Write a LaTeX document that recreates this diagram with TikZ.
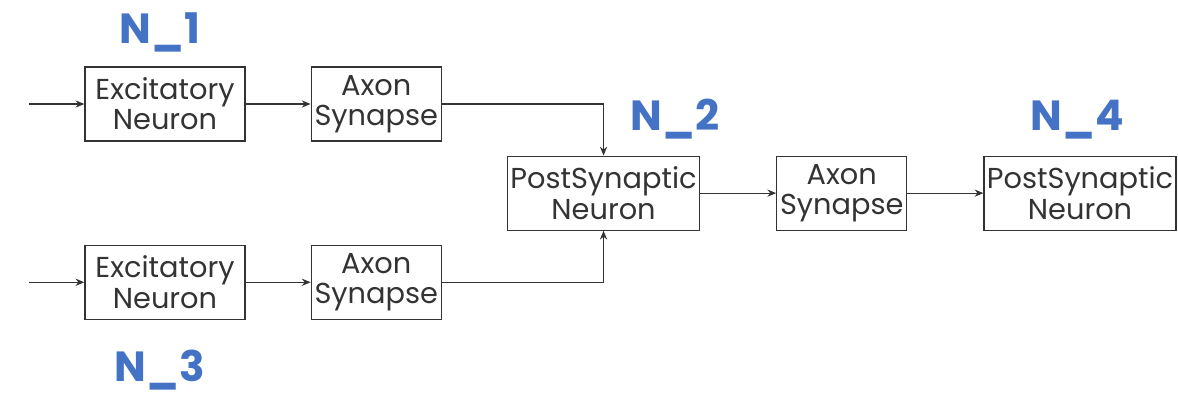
\documentclass[tikz,border=0pt]{standalone}
\usepackage{fontspec}
\setmainfont{Poppins}
\usepackage{tikz}
\usetikzlibrary{arrows.meta,positioning,calc}
\definecolor{ink}{RGB}{51,51,51}
\definecolor{tagblue}{RGB}{68,114,196}
\tikzset{
  unit/.style={rectangle,draw=ink,line width=0.9pt,text=ink,minimum height=1.85cm,
               inner sep=1pt,align=center,font=\fontsize{20.5}{21.5}\selectfont},
  neuron/.style={unit,minimum width=4cm},
  synapse/.style={unit,minimum width=3.25cm},
  post/.style={unit,minimum width=4.8cm},
  tag/.style={text=tagblue,font=\bfseries\fontsize{30}{32}\selectfont,inner sep=0pt},
  flow/.style={-{Stealth[length=2.2mm,width=1.8mm]},line width=0.9pt,draw=ink},
}

\begin{document}
\begin{tikzpicture}[node distance=1.625cm and 1.625cm]
  \useasboundingbox (-4.125,-7.325) rectangle (25.325,2.6);
  \node[neuron] (exc1) at (0,0) {Excitatory\\Neuron};
  \node[synapse,right=1.625cm of exc1] (ax1) {Axon\\Synapse};
  \node[neuron,below=2.575cm of exc1] (exc2) {Excitatory\\Neuron};
  \node[synapse,right=1.625cm of exc2] (ax2) {Axon\\Synapse};
  \coordinate (mid) at ($(ax1.east)!0.5!(ax2.east)$);
  \node[post,right=1.625cm of mid] (post1) {PostSynaptic\\Neuron};
  \node[synapse,right=1.9cm of post1] (ax3) {Axon\\Synapse};
  \node[post,right=1.9cm of ax3] (post2) {PostSynaptic\\Neuron};

  \coordinate[left=1.375cm of exc1] (in1);
  \coordinate[left=1.375cm of exc2] (in2);

  \node[tag] at ([yshift=1.8cm,xshift=-0.125cm]exc1.center) (n1) {N\_1};
  \node[tag] at ([yshift=-2.2cm,xshift=-0.125cm]exc2.center) (n3) {N\_3};
  \node[tag] at ([yshift=0.9cm,xshift=-0.625cm]post1.north east) (n2) {N\_2};
  \node[tag] at ([yshift=0.9cm,xshift=-0.075cm]post2.north) (n4) {N\_4};

  \draw[flow] (in1) -- (exc1);
  \draw[flow] (in2) -- (exc2);
  \draw[flow] (exc1) -- (ax1);
  \draw[flow] (exc2) -- (ax2);
  \draw[flow] (ax1.east) -| (post1.north);
  \draw[flow] (ax2.east) -| (post1.south);
  \draw[flow] (post1) -- (ax3);
  \draw[flow] (ax3) -- (post2);
\end{tikzpicture}
\end{document}
